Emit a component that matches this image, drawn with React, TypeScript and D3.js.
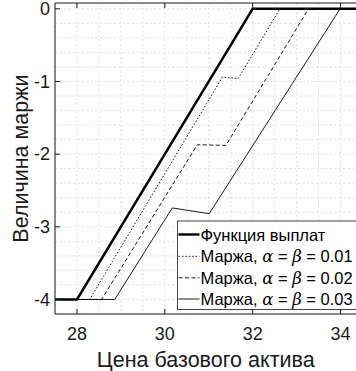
import React from "react";
import * as d3 from "d3";

// Payoff function and margin curves for several commission levels
const payoffX = [27.5, 28, 32, 34.5];
const payoffY = [-4, -4, 0, 0];

const margin01X = [27.5, 28.29, 31.31, 31.67, 32.62, 34.5];
const margin01Y = [-4, -4, -0.94, -0.96, 0, 0];

const margin02X = [27.5, 28.56, 30.74, 31.39, 33.27, 34.5];
const margin02Y = [-4, -4, -1.87, -1.88, 0, 0];

const margin03X = [27.5, 28.86, 30.17, 31.01, 33.99, 34.5];
const margin03Y = [-4, -4, -2.74, -2.82, 0, 0];

const xTicks = [28, 30, 32, 34];
const yTicks = [0, -1, -2, -3, -4];
const legendAlphas = ["0.01", "0.02", "0.03"];

const W = 356;
const H = 371;
const box = { left: 55, top: 3, right: 362.5, bottom: 314 };
const FONT = "'Liberation Sans', Arial, Helvetica, sans-serif";
const INK = "#1a1a1a";

type Series = { xs: number[]; ys: number[]; width: number; dash?: string };

export default function App() {
  const x = d3.scaleLinear().domain([27.5, 34.5]).range([box.left, box.right]);
  const y = d3.scaleLinear().domain([-4.2, 0.08]).range([box.bottom, box.top]);

  const line = d3
    .line<[number, number]>()
    .x((d) => x(d[0]))
    .y((d) => y(d[1]));

  const series: Series[] = [
    { xs: payoffX, ys: payoffY, width: 2.4 },
    { xs: margin01X, ys: margin01Y, width: 0.9, dash: "1.6,1.8" },
    { xs: margin02X, ys: margin02Y, width: 0.9, dash: "4,2.5" },
    { xs: margin03X, ys: margin03Y, width: 0.9 },
  ];

  const minorX = d3.range(27.5, 34.5001, 0.5);
  const minorY = d3.range(-4.2, 0.0801, 0.2).map((v) => Math.round(v * 10) / 10);

  const legend = { left: 177.5, top: 221, bottom: 309.5, right: 380 };
  const rowY = [234.5, 256.3, 277.8, 299];

  return (
    <svg
      width={W}
      height={H}
      style={{ position: "absolute", left: 0, top: 0, background: "#fff" }}
      fontFamily={FONT}
    >
      <defs>
        <clipPath id="plotArea">
          <rect
            x={box.left}
            y={box.top}
            width={box.right - box.left}
            height={box.bottom - box.top}
          />
        </clipPath>
      </defs>
      <rect x={0} y={0} width={W} height={H} fill="#fff" />

      {/* grid */}
      <g stroke="#dcdcdc" strokeWidth={0.8} strokeDasharray="2.5,2">
        {minorX.map((v) => (
          <line key={"gx" + v} x1={x(v)} x2={x(v)} y1={box.top} y2={box.bottom} />
        ))}
        {minorY.map((v) => (
          <line key={"gy" + v} x1={box.left} x2={box.right} y1={y(v)} y2={y(v)} />
        ))}
      </g>

      {/* curves */}
      <g clipPath="url(#plotArea)" fill="none" stroke="#000">
        {series.map((s, i) => (
          <path
            key={i}
            d={line(s.xs.map((v, j) => [v, s.ys[j]] as [number, number])) || ""}
            strokeWidth={s.width}
            strokeDasharray={s.dash}
          />
        ))}
      </g>

      {/* axes frame and ticks */}
      <g stroke={INK} strokeWidth={1}>
        <line x1={box.left} x2={box.right} y1={box.bottom} y2={box.bottom} />
        <line x1={box.left} x2={box.right} y1={box.top} y2={box.top} />
        <line x1={box.left} x2={box.left} y1={box.top} y2={box.bottom} />
        {xTicks.map((t) => (
          <g key={"tx" + t}>
            <line x1={x(t)} x2={x(t)} y1={box.bottom} y2={box.bottom - 5} />
            <line x1={x(t)} x2={x(t)} y1={box.top} y2={box.top + 5} />
          </g>
        ))}
        {yTicks.map((t) => (
          <line key={"ty" + t} x1={box.left} x2={box.left + 5} y1={y(t)} y2={y(t)} />
        ))}
      </g>

      {xTicks.map((t) => (
        <text
          key={"lx" + t}
          x={x(t)}
          y={339.5}
          textAnchor="middle"
          fontSize={18}
          fill={INK}
        >
          {t}
        </text>
      ))}
      {yTicks.map((t) => (
        <text
          key={"ly" + t}
          x={50}
          y={y(t) + 6.3}
          textAnchor="end"
          fontSize={18}
          fill={INK}
        >
          {t}
        </text>
      ))}

      <text
        x={(box.left + box.right) / 2 - 3}
        y={366.5}
        textAnchor="middle"
        fontSize={21.5}
        fill={INK}
      >
        Цена базового актива
      </text>
      <text
        transform={`translate(28, ${(box.top + box.bottom) / 2}) rotate(-90)`}
        textAnchor="middle"
        fontSize={21.5}
        fill={INK}
      >
        Величина маржи
      </text>

      {/* legend */}
      <rect
        x={legend.left}
        y={legend.top}
        width={legend.right - legend.left}
        height={legend.bottom - legend.top}
        fill="#fff"
        stroke={INK}
        strokeWidth={0.8}
      />
      {series.map((s, i) => (
        <line
          key={"leg" + i}
          x1={178.5}
          x2={199.5}
          y1={rowY[i]}
          y2={rowY[i]}
          stroke="#000"
          strokeWidth={s.width}
          strokeDasharray={s.dash}
        />
      ))}
      <text x={200.5} y={rowY[0] + 6} fontSize={16.5} fill="#000">
        Функция выплат
      </text>
      {legendAlphas.map((a, i) => (
        <text key={"lt" + a} x={200.5} y={rowY[i + 1] + 6} fontSize={16.5} fill="#000">
          Маржа,{" "}
          <tspan fontFamily="'DejaVu Serif', serif" fontStyle="italic">
            α
          </tspan>
          {" = "}
          <tspan fontFamily="'DejaVu Serif', serif" fontStyle="italic">
            β
          </tspan>
          {" = " + a}
        </text>
      ))}
    </svg>
  );
}
